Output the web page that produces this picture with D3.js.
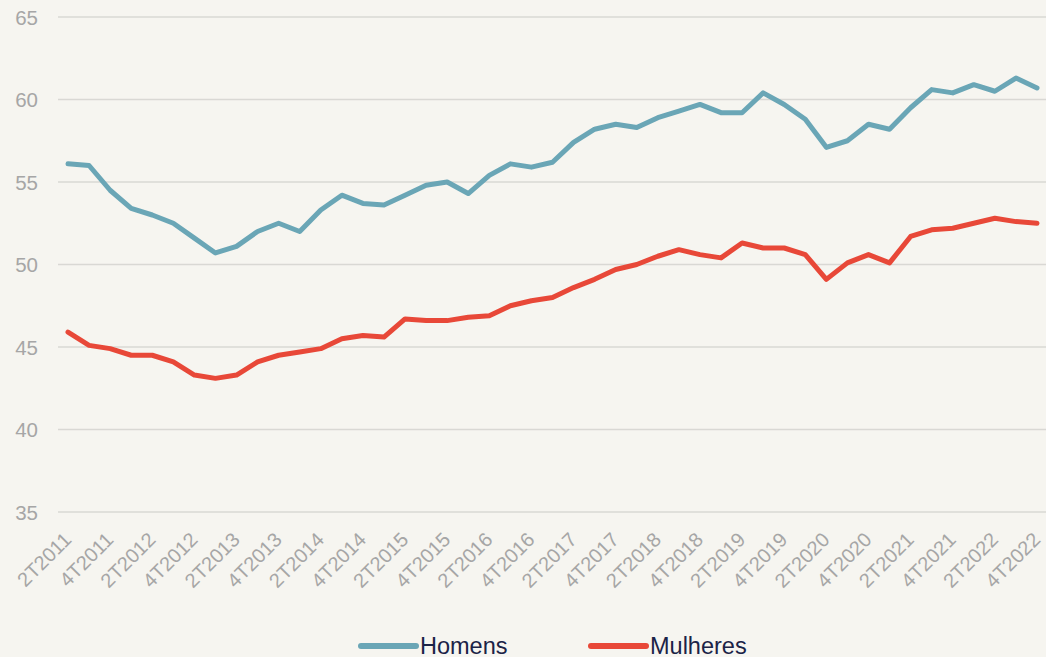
<!DOCTYPE html>
<html>
<head>
<meta charset="utf-8">
<script src="https://cdn.jsdelivr.net/npm/d3@7"></script>
<style>
  html, body { margin: 0; padding: 0; background: #f6f5f0; }
  svg { display: block; font-family: "Liberation Sans", Arial, sans-serif; }
</style>
</head>
<body>
<svg width="1046" height="657"></svg>
<script>
// trimestres 2T2011 .. 4T2022
const quarters = [];
for (let y = 2011; y <= 2022; y++) {
	for (let q = 1; q <= 4; q++) {
		if (y === 2011 && q === 1) continue;
		quarters.push(q + "T" + y);
	}
}

const homens = [56.1, 56.0, 54.5, 53.4, 53.0, 52.5, 51.6, 50.7, 51.1, 52.0,
	52.5, 52.0, 53.3, 54.2, 53.7, 53.6, 54.2, 54.8, 55.0, 54.3,
	55.4, 56.1, 55.9, 56.2, 57.4, 58.2, 58.5, 58.3, 58.9, 59.3,
	59.7, 59.2, 59.2, 60.4, 59.7, 58.8, 57.1, 57.5, 58.5, 58.2,
	59.5, 60.6, 60.4, 60.9, 60.5, 61.3, 60.7];

const mulheres = [45.9, 45.1, 44.9, 44.5, 44.5, 44.1, 43.3, 43.1, 43.3, 44.1,
	44.5, 44.7, 44.9, 45.5, 45.7, 45.6, 46.7, 46.6, 46.6, 46.8,
	46.9, 47.5, 47.8, 48.0, 48.6, 49.1, 49.7, 50.0, 50.5, 50.9,
	50.6, 50.4, 51.3, 51.0, 51.0, 50.6, 49.1, 50.1, 50.6, 50.1,
	51.7, 52.1, 52.2, 52.5, 52.8, 52.6, 52.5];

const yTicks = [35, 40, 45, 50, 55, 60, 65];

let svg = d3.select("svg"),
	width = +svg.attr("width"),
	height = +svg.attr("height");

let x = d3.scalePoint()
	.domain(quarters)
	.range([68, 1037]);

let y = d3.scaleLinear()
	.domain([35, 65])
	.range([512, 17]);

// grelha
svg.append("g")
	.selectAll("line")
	.data(yTicks)
	.enter().append("line")
	.attr("x1", 58)
	.attr("x2", width)
	.attr("y1", d => y(d))
	.attr("y2", d => y(d))
	.attr("stroke", "#d9d8d4")
	.attr("stroke-width", 1.5);

// eixo y
let yAxis = svg.append("g")
	.attr("transform", "translate(38,0)")
	.call(d3.axisLeft(y).tickValues(yTicks).tickSize(0).tickPadding(0));
yAxis.select(".domain").remove();
yAxis.selectAll("text")
	.attr("fill", "#a6a6a6")
	.style("font-size", "20.5px")
	.attr("dy", "0.36em");

// eixo x
let xAxis = svg.append("g")
	.attr("transform", "translate(0,520)")
	.call(d3.axisBottom(x)
		.tickValues(quarters.filter((d, i) => i % 2 === 0))
		.tickSize(0).tickPadding(0));
xAxis.select(".domain").remove();
xAxis.selectAll("text")
	.attr("fill", "#a6a6a6")
	.style("font-size", "20px")
	.attr("text-anchor", "end")
	.attr("y", 0)
	.attr("dy", 0)
	.attr("transform", "translate(4,21) rotate(-45)");

let line = d3.line()
	.x((d, i) => x(quarters[i]))
	.y(d => y(d));

const series = [
	{ name: "Homens", values: homens, color: "#6aa6b6" },
	{ name: "Mulheres", values: mulheres, color: "#e84838" }
];

svg.append("g")
	.selectAll("path")
	.data(series)
	.enter().append("path")
	.attr("d", d => line(d.values))
	.attr("fill", "none")
	.attr("stroke", d => d.color)
	.attr("stroke-width", 5)
	.attr("stroke-linejoin", "round")
	.attr("stroke-linecap", "round");

// legenda
const legendX = [361, 591];
let legend = svg.append("g")
	.selectAll("g")
	.data(series)
	.enter().append("g")
	.attr("transform", (d, i) => "translate(" + legendX[i] + ",646)");

legend.append("line")
	.attr("x1", 0)
	.attr("x2", 55)
	.attr("stroke", d => d.color)
	.attr("stroke-width", 6)
	.attr("stroke-linecap", "round");

legend.append("text")
	.attr("x", 59)
	.attr("y", 7.5)
	.attr("fill", "#1b2347")
	.style("font-size", "23.5px")
	.text(d => d.name);
</script>
</body>
</html>
